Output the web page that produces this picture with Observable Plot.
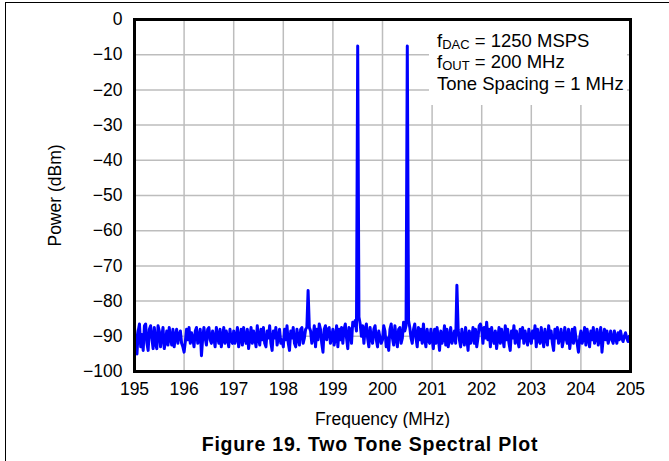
<!DOCTYPE html>
<html>
<head>
<meta charset="utf-8">
<script src="https://cdn.jsdelivr.net/npm/d3@7"></script>
<script src="https://cdn.jsdelivr.net/npm/@observablehq/plot@0.6"></script>
<style>
  body { margin: 0; background: #fff; }
  #page {
    position: relative; width: 669px; height: 461px; overflow: hidden;
    font-family: "Liberation Sans", Arial, Helvetica, sans-serif; color: #000;
  }
  #border {
    position: absolute; left: 5px; top: 2px; right: -10px; bottom: -10px;
    border-top: 1.5px solid #000; border-left: 1.5px solid #000;
  }
  #chart { position: absolute; left: 0; top: 0; }
  #note {
    position: absolute; left: 429px; top: 21px; width: 198px; height: 84px;
    background: #fff; font-size: 18.5px;
  }
  #note div { position: absolute; left: 8px; line-height: 18px; white-space: nowrap; }
  #note sub { font-size: 13px; vertical-align: -2px; line-height: 0; }
  #caption {
    position: absolute; left: 70px; width: 600px; top: 435px;
    text-align: center; font-weight: bold; font-size: 19.5px; line-height: 19.5px;
    letter-spacing: 0.8px; white-space: nowrap;
  }
</style>
</head>
<body>
<div id="page">
  <div id="border"></div>
  <div id="chart"></div>
  <div id="note">
    <div style="top:10.8px">f<sub>DAC</sub> = 1250 MSPS</div>
    <div style="top:32.3px">f<sub>OUT</sub> = 200 MHz</div>
    <div style="top:53.8px">Tone Spacing = 1 MHz</div>
  </div>
  <div id="caption">Figure 19. Two Tone Spectral Plot</div>
</div>
<script>
// Spectrum sampled every 25 kHz from 195 MHz to 205 MHz (dBm)
const freqStart = 195;
const freqStep = 0.025;
const powerDbm = [
  // 195.000 – 195.975
  -87.5, -92, -95, -88.5, -86.5, -93, -89.5, -94, -87, -86.5, -92, -94, -88, -87, -90.5, -93.5, -87.5, -92, -93.5, -87,
  -88.5, -93, -90, -87.5, -93.5, -91.5, -88.5, -92.5, -87.5, -90.5, -92.5, -88, -93, -90, -88, -92, -89.5, -88.5, -92, -93,
  // 196.000 – 196.975
  -94.5, -91.5, -88, -91, -87.5, -92, -89, -90.5, -93, -88.5, -87.5, -92, -90.5, -88, -95.5, -90.5, -87.5, -90.5, -92.5, -88,
  -87.5, -91, -92, -88.5, -90.5, -93, -87.5, -90, -92, -88, -93, -90.5, -87.5, -92, -88.5, -90.5, -93, -88, -91, -92,
  // 197.000 – 197.975
  -88.5, -92, -90.5, -87.5, -93, -90.5, -88, -92.5, -87.5, -90.5, -92, -88, -93.5, -90.5, -87.5, -92, -88.5, -90.5, -93, -87,
  -90.5, -92.5, -88, -91, -87.5, -92, -93, -88.5, -90.5, -87, -92, -94, -88.5, -90.5, -87.5, -92.5, -90.5, -88, -92, -91,
  // 198.000 – 198.975
  -93, -88, -91, -87, -92, -94, -88.5, -90.5, -87.5, -92, -93, -88, -90.5, -92.5, -88, -87.5, -92, -90.5, -88, -87.5,
  -77, -87.5, -88.5, -92, -90.5, -87, -93, -88, -91, -86.5, -88, -92, -94.5, -88, -87, -91, -88, -87.5, -92, -90.5,
  // 199.000 – 199.975
  -88, -92.5, -90.5, -87, -93, -88, -91, -87.5, -92, -88, -86.5, -90.5, -93.5, -87.5, -88, -92, -86, -87, -85.5, -88.5,
  -7.5, -84.5, -86.5, -90, -87, -92, -88, -86.5, -90.5, -93, -87.5, -90.5, -92, -88, -87, -91, -93, -88.5, -90.5, -92,
  // 200.000 – 200.975
  -91, -87, -88.5, -93, -90.5, -94, -88, -86.5, -90.5, -92.5, -87, -90.5, -93, -88, -87.5, -92, -90.5, -86, -88.5, -87,
  -7.5, -85.5, -87.5, -90.5, -92, -88, -86.5, -90.5, -93, -87.5, -91, -88, -92, -86.5, -90.5, -93, -88, -91, -92, -88,
  // 201.000 – 201.975
  -90.5, -93.5, -88, -92, -87.5, -90.5, -94, -88.5, -92, -90.5, -87, -92.5, -88, -93, -90.5, -87.5, -92, -90.5, -88.5, -92,
  -75.5, -88, -91, -93, -88, -90.5, -92.5, -87.5, -90.5, -94, -88.5, -92, -90.5, -87.5, -92, -88, -93, -90.5, -87, -86.5,
  // 202.000 – 202.975
  -88, -92, -87.5, -90.5, -86, -91, -88, -93, -87.5, -90.5, -92, -88.5, -93.5, -90.5, -87.5, -92, -88, -90.5, -93, -87,
  -91, -88, -92, -94, -88.5, -90.5, -87, -92, -88.5, -91, -93, -88, -90.5, -87.5, -92, -88.5, -90.5, -92.5, -88, -90.5,
  // 203.000 – 203.975
  -92, -88.5, -90.5, -87, -93, -88, -91, -92, -87.5, -90.5, -93, -88, -90.5, -92.5, -87, -90.5, -88.5, -92, -94, -88,
  -90.5, -87.5, -92, -90.5, -88, -93, -91, -87.5, -90.5, -92, -88, -93.5, -90.5, -88, -92, -87.5, -90.5, -92, -94.5, -90.5,
  // 204.000 – 205.000
  -88.5, -92, -90.5, -87.5, -92.5, -88, -90.5, -93, -88.5, -91, -87.5, -92, -90.5, -88, -92.5, -90.5, -87.5, -94.5, -90.5, -88,
  -91, -88.5, -92, -90.5, -88.5, -91, -92, -88.5, -90.5, -92, -89, -91, -88.5, -90.5, -91.5, -90, -89, -90.5, -91.5, -90,
  -91
];

const xTicks = [195, 196, 197, 198, 199, 200, 201, 202, 203, 204, 205];
const yTicks = [0, -10, -20, -30, -40, -50, -60, -70, -80, -90, -100];

const spectrum = powerDbm.map((p, i) => ({freq: freqStart + i * freqStep, power: p}));

const chart = Plot.plot({
  width: 669,
  height: 428,
  marginLeft: 134,
  marginRight: 39,
  marginTop: 19,
  marginBottom: 57,
  style: {
    fontFamily: '"Liberation Sans", Arial, Helvetica, sans-serif',
    fontSize: "17.5px",
    color: "#000",
    background: "transparent"
  },
  x: {domain: [195, 205]},
  y: {domain: [-100, 0]},
  marks: [
    Plot.gridX(xTicks, {stroke: "#bdbdbd", strokeOpacity: 1, strokeWidth: 1.5}),
    Plot.gridY(yTicks, {stroke: "#bdbdbd", strokeOpacity: 1, strokeWidth: 1.5}),
    Plot.line(spectrum, {x: "freq", y: "power", stroke: "#0000ff", strokeWidth: 3}),
    Plot.frame({stroke: "#000", strokeWidth: 3}),
    Plot.axisX(xTicks, {
      tickSize: 0, tickPadding: 11,
      label: "Frequency (MHz)", labelAnchor: "center", labelArrow: "none", labelOffset: 53
    }),
    Plot.axisY(yTicks, {
      tickSize: 0, tickPadding: 12,
      label: "Power (dBm)", labelAnchor: "center", labelArrow: "none", labelOffset: 86
    })
  ]
});

document.getElementById("chart").appendChild(chart);
</script>
</body>
</html>
